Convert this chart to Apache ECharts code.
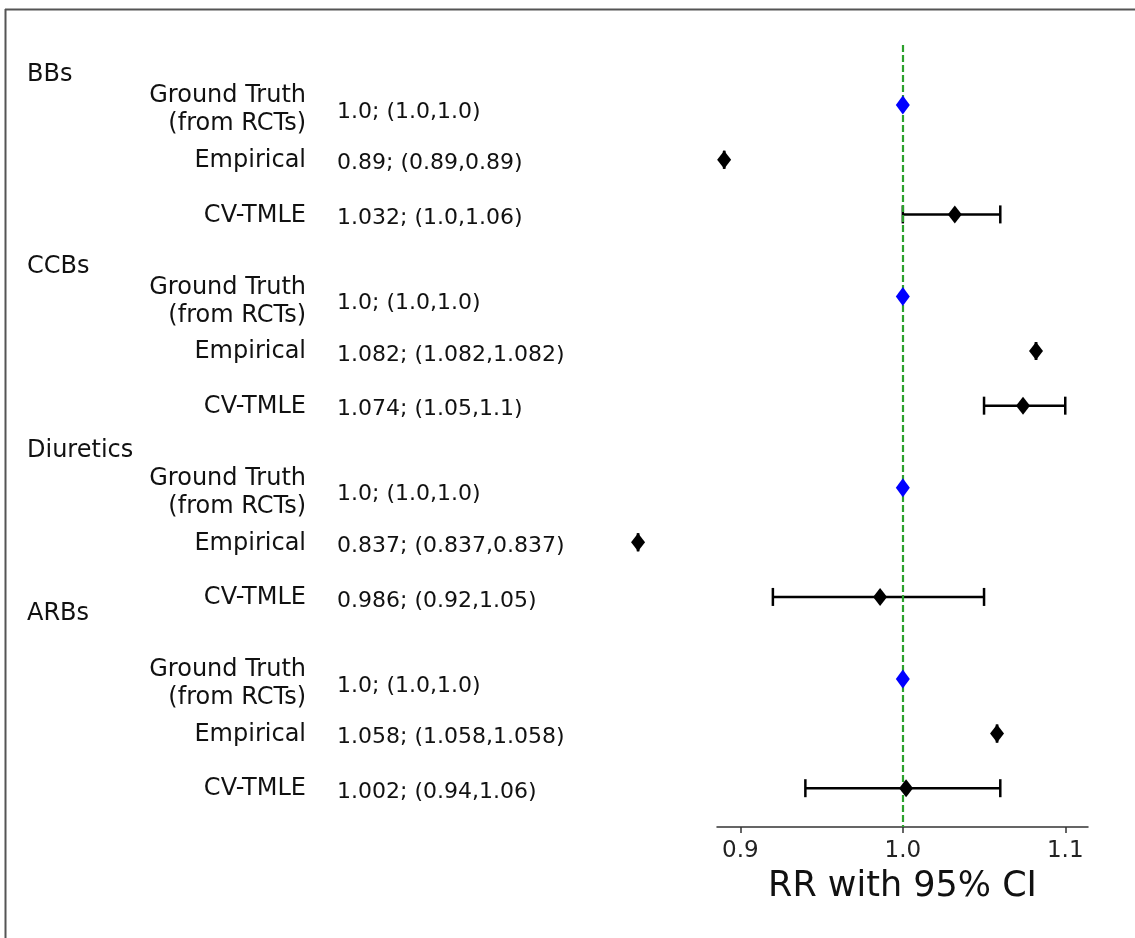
<!DOCTYPE html>
<html>
<head>
<meta charset="utf-8">
<script src="https://cdn.jsdelivr.net/npm/echarts@6/dist/echarts.min.js"></script>
<style>
  html, body { margin: 0; padding: 0; background: #fff; }
  #main { width: 1135px; height: 938px; }
</style>
</head>
<body>
<div id="main"></div>
<script>
const groups = ['BBs', 'CCBs', 'Diuretics', 'ARBs'];
const groupPos = [-0.56, 2.95, 6.33, 9.3];
const methods = ['Ground Truth\n(from RCTs)', 'Empirical', 'CV-TMLE'];
const rowPos = [0, 1, 2, 3.5, 4.5, 5.5, 7, 8, 9, 10.5, 11.5, 12.5];
const rr = [1.0, 0.89, 1.032, 1.0, 1.082, 1.074, 1.0, 0.837, 0.986, 1.0, 1.058, 1.002];
const ciLow = [1.0, 0.89, 1.0, 1.0, 1.082, 1.05, 1.0, 0.837, 0.92, 1.0, 1.058, 0.94];
const ciHigh = [1.0, 0.89, 1.06, 1.0, 1.082, 1.1, 1.0, 0.837, 1.05, 1.0, 1.058, 1.06];
const rowText = [
    '1.0; (1.0,1.0)', '0.89; (0.89,0.89)', '1.032; (1.0,1.06)',
    '1.0; (1.0,1.0)', '1.082; (1.082,1.082)', '1.074; (1.05,1.1)',
    '1.0; (1.0,1.0)', '0.837; (0.837,0.837)', '0.986; (0.92,1.05)',
    '1.0; (1.0,1.0)', '1.058; (1.058,1.058)', '1.002; (0.94,1.06)'
];
const xTicks = [0.9, 1.0, 1.1];
const refValue = 1.0;

const font = 'DejaVu Sans';
const chart = echarts.init(document.getElementById('main'));

// ground truth points in blue, the rest in black with error bars
const truthPts = [];
const estPts = [];
const barPts = [];
for (let i = 0; i < rr.length; i++) {
    if (i % 3 === 0) {
        truthPts.push([rr[i], rowPos[i]]);
    } else {
        estPts.push([rr[i], rowPos[i]]);
        barPts.push([ciLow[i], ciHigh[i], rowPos[i]]);
    }
}

const option = {
    animation: false,
    grid: { left: 717, right: 47, top: 45, bottom: 111 },
    xAxis: {
        type: 'value',
        min: 0.8856,
        max: 1.114,
        name: 'RR with 95% CI',
        nameLocation: 'middle',
        nameGap: 42,
        nameTextStyle: { fontFamily: font, fontSize: 35, color: '#111' },
        splitLine: { show: false },
        axisLine: { onZero: false, lineStyle: { color: '#333', width: 1.5 } },
        axisTick: { customValues: xTicks, length: 6, lineStyle: { color: '#333', width: 1.5 } },
        axisLabel: {
            customValues: xTicks, margin: 13,
            fontFamily: font, fontSize: 23, color: '#222',
            formatter: v => v.toFixed(1)
        }
    },
    yAxis: {
        type: 'value', inverse: true, min: -1.1, max: 13.21,
        show: false, splitLine: { show: false }
    },
    series: [
        {
            type: 'custom',
            clip: false,
            data: barPts,
            z: 2,
            renderItem: function (params, api) {
                const a = api.coord([api.value(0), api.value(2)]);
                const b = api.coord([api.value(1), api.value(2)]);
                const st = { stroke: '#000', lineWidth: 2.5 };
                return {
                    type: 'group',
                    children: [
                        { type: 'line', shape: { x1: a[0], y1: a[1], x2: b[0], y2: b[1] }, style: st },
                        { type: 'line', shape: { x1: a[0], y1: a[1] - 9, x2: a[0], y2: a[1] + 9 }, style: st },
                        { type: 'line', shape: { x1: b[0], y1: b[1] - 9, x2: b[0], y2: b[1] + 9 }, style: st }
                    ]
                };
            },
            markLine: {
                silent: true,
                symbol: 'none',
                label: { show: false },
                lineStyle: { color: '#2ca02c', type: [7, 3], width: 2.2 },
                data: [{ xAxis: refValue }]
            }
        },
        {
            type: 'scatter',
            clip: false,
            data: estPts,
            symbol: 'diamond',
            symbolSize: [14, 18],
            itemStyle: { color: '#000', opacity: 1 },
            z: 5
        },
        {
            type: 'scatter',
            clip: false,
            data: truthPts,
            symbol: 'diamond',
            symbolSize: [14, 19],
            itemStyle: { color: '#0000ff', opacity: 1 },
            z: 6
        }
    ]
};
chart.setOption(option);

// text columns placed at the rows' pixel heights
const graphics = [
    { type: 'line', shape: { x1: 5, y1: 9.5, x2: 1135, y2: 9.5 }, style: { stroke: '#555', lineWidth: 2 } },
    { type: 'line', shape: { x1: 5.5, y1: 9, x2: 5.5, y2: 938 }, style: { stroke: '#555', lineWidth: 2 } }
];
groups.forEach(function (g, k) {
    const y = chart.convertToPixel({ gridIndex: 0 }, [1, groupPos[k]])[1];
    graphics.push({
        type: 'text', x: 27, y: y,
        style: { text: g, font: '24px "' + font + '"', fill: '#111', align: 'left', verticalAlign: 'middle' }
    });
});
rowPos.forEach(function (p, i) {
    const y = chart.convertToPixel({ gridIndex: 0 }, [1, p])[1];
    const m = i % 3;
    graphics.push({
        type: 'text', x: 306, y: y + (m === 0 ? 5 : 1),
        style: {
            text: methods[m], font: '24px "' + font + '"', fill: '#111',
            align: 'right', verticalAlign: 'middle', lineHeight: 28
        }
    });
    graphics.push({
        type: 'text', x: 337, y: y + (m === 0 ? 7 : 4),
        style: { text: rowText[i], font: '22px "' + font + '"', fill: '#111', align: 'left', verticalAlign: 'middle' }
    });
});
chart.setOption({ graphic: graphics });
</script>
</body>
</html>
